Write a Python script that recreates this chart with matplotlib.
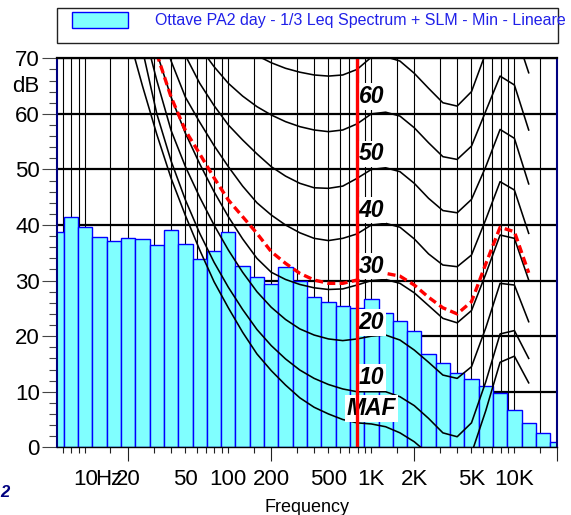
import matplotlib
matplotlib.use('Agg')
import matplotlib.pyplot as plt
import matplotlib.transforms as mtransforms
from matplotlib.patches import Rectangle
import numpy as np

plt.rcParams['font.family'] = ['Liberation Sans', 'DejaVu Sans']

# 1/3 octave band centres (Hz) and measured Leq per band (dB)
bands = [6.3, 8, 10, 12.5, 16, 20, 25, 31.5, 40, 50, 63, 80, 100, 125, 160, 200,
         250, 315, 400, 500, 630, 800, 1000, 1250, 1600, 2000, 2500, 3150, 4000,
         5000, 6300, 8000, 10000, 12500, 16000, 20000]
leq = [38.7, 41.5, 39.7, 37.8, 37.2, 37.7, 37.5, 36.4, 39.1, 36.5, 33.8, 35.3, 38.7,
       32.7, 30.6, 29.4, 32.4, 30.0, 27.0, 26.1, 25.5, 25.1, 26.6, 24.2, 22.7, 21.0,
       16.7, 15.1, 13.4, 12.3, 11.0, 9.8, 6.7, 4.3, 2.5, 1.0]

# equal loudness contours, 20 Hz .. 12.5 kHz
curve_bands = bands[5:34]
maf = [74.3, 65.0, 56.3, 48.4, 41.7, 35.5, 29.8, 25.1, 20.7, 16.8, 13.8, 11.2, 8.9, 7.2,
       6.0, 5.0, 4.4, 4.2, 3.7, 2.6, 1.0, -1.2, -3.6, -3.9, -1.1, 6.6, 15.3, 16.4, 11.6]
ph10 = [80, 71.5, 60, 51.5, 44.5, 38.5, 33.3, 28.8, 24.8, 21.2, 18.3, 15.9, 13.9, 12.4,
        11.3, 10.5, 10.0, 10.0, 10.0, 9.1, 7.5, 5.2, 2.6, 1.9, 4.4, 11.8, 20.4, 21.0, 16.0]
ph20 = [85, 76, 66, 57, 50.5, 45, 40, 35.5, 31.5, 28, 25.2, 23, 21.3, 20.2,
        19.5, 19.2, 19.5, 20, 20.2, 19.3, 17.5, 15.3, 13, 12.4, 14.5, 21.5, 29.5, 29.2, 22.6]
ph30 = [88, 80, 71, 63, 56.5, 51, 46, 41.5, 37.5, 34, 31.5, 30.2, 29.3, 28.7,
        28.4, 28.5, 29.2, 30, 30.2, 29.5, 27.8, 25.5, 23.2, 22.4, 24.6, 31.2, 38.2, 37.6, 30.1]
ph40 = [95, 86, 77.5, 69.5, 63, 58.5, 54.3, 50.5, 47, 44, 41.8, 40, 38.6, 37.6,
        37.2, 37.6, 38.4, 40.0, 40.3, 39.6, 37.5, 34.8, 32.8, 32.5, 34.6, 41.0, 47.8, 46.3, 38.5]
ph50 = [101, 93, 85, 77, 70.5, 65.5, 61.5, 58, 55.3, 52.8, 50.5, 48.8, 47.5, 46.7,
        46.6, 47.0, 48.4, 50.0, 50.3, 49.6, 47.5, 44.8, 42.6, 42.2, 44.6, 50.5, 57.2, 55.6, 47.4]
ph60 = [106, 98, 90, 83, 77, 72, 68.5, 65.5, 63.2, 61.3, 59.8, 58.6, 57.7, 57.1,
        56.8, 57.1, 58.2, 60.0, 60.3, 59.6, 57.5, 54.8, 52.3, 51.8, 54.2, 60.5, 66.8, 65.2, 57.1]
ph70 = [110, 103, 96, 90, 85, 80.5, 77, 74.3, 72.2, 70.5, 69.2, 68.2, 67.5, 67.0,
        66.8, 67.0, 68.0, 70.2, 70.3, 69.5, 67.3, 64.6, 62.0, 61.4, 64.0, 71.0, 76.5, 75.2, 67.4]
contours = [maf, ph10, ph20, ph30, ph40, ph50, ph60, ph70]
contour_names = ['MAF', '10', '20', '30', '40', '50', '60', '70']
label_db = [7.0, 12.6, 22.4, 32.6, 42.7, 52.8, 63.1, 73.5]

# "Min" loudness curve (red dashed), 31.5 Hz .. 12.5 kHz
min_bands = bands[7:34]
min_curve = [70.8, 63.0, 57.0, 52.8, 48.5, 44.5, 41.5, 38.5, 35.2, 33.1, 31.3, 30.1, 29.5,
             29.5, 30.1, 31.0, 31.3, 30.8, 29.2, 27.0, 25.1, 24.0, 26.2, 33.0, 39.6, 38.8, 31.4]

cursor_freq = 800
xtick_vals = [10, 20, 50, 100, 200, 500, 1000, 2000, 5000, 10000]
xtick_text = ['10', '20', '50', '100', '200', '500', '1K', '2K', '5K', '10K']
legend_text = 'Ottave PA2 day - 1/3 Leq Spectrum + SLM - Min - Lineare'


def exact(f):
    # nominal band -> exact base-10 band centre
    return 10 ** (np.round(np.log10(f) * 10) / 10)


def main():
    fig = plt.figure(figsize=(5.71, 5.15), dpi=100)
    W, H = 571, 515
    x0, x1, ytop, ybot = 56.7, 557.3, 58.3, 447.3
    ax = fig.add_axes([x0 / W, 1 - ybot / H, (x1 - x0) / W, (ybot - ytop) / H])

    fc = exact(np.array(bands))
    lo = fc / 10 ** 0.05
    hi = fc * 10 ** 0.05
    ax.bar(lo, leq, width=hi - lo, align='edge', color='#80ffff',
           edgecolor='#0000ff', linewidth=1.0, zorder=2)

    ax.set_xscale('log')
    ax.set_xlim(fc[0], fc[-1])
    ax.set_ylim(0, 70)

    # grid
    grid_f = [m * 10 ** n for n in range(0, 5) for m in [1, 1.5, 2, 3, 4, 5, 6, 7, 8, 9]]
    grid_f = [f for f in grid_f if fc[0] < f <= fc[-1] * 1.001]
    for f in grid_f:
        ax.axvline(f, color='black', lw=0.8, zorder=1)
    for v in range(0, 71, 10):
        ax.axhline(v, color='black', lw=1.6, zorder=1)

    # contours
    cb = exact(np.array(curve_bands))
    for vals in contours:
        ax.plot(cb, vals, color='black', lw=1.15, zorder=3)
    ax.plot(exact(np.array(min_bands)), min_curve, color='red', lw=2.4,
            dashes=(2.4, 1.3), zorder=4)

    for name, ydb in zip(contour_names, label_db):
        if ydb > 70:
            continue
        ax.text(1000, ydb, name, ha='center', va='center', fontsize=16.5,
                fontweight='bold', fontstyle='italic', zorder=5,
                bbox=dict(boxstyle='square,pad=0.08', fc='white', ec='none'))

    ax.axvline(exact(cursor_freq), color='red', lw=2.4, zorder=6)

    # ticks
    major = [20, 200, 2000, 20000]
    minor = [f for f in grid_f if f not in major]
    ax.set_xticks([exact(f) if f == 20000 else f for f in major])
    ax.set_xticks(minor, minor=True)
    ax.set_xticklabels([])
    ax.set_xticklabels([], minor=True)
    ax.tick_params(axis='x', which='major', direction='out', length=10, width=0.8, color='#222222')
    ax.tick_params(axis='x', which='minor', direction='out', length=4.3, width=0.8, color='#222222')

    ax.set_yticks(range(0, 71, 10))
    ax.set_yticks(range(0, 71, 2), minor=True)
    ax.tick_params(axis='y', which='major', direction='out', length=11, width=0.8,
                   color='#444444', labelsize=16, pad=1.2)
    ax.tick_params(axis='y', which='minor', direction='out', length=6, width=0.8, color='#444444')
    ax.annotate('dB', xy=(0, 65), xycoords=('axes fraction', 'data'), xytext=(-12.2, 0),
                textcoords='offset points', ha='right', va='center', fontsize=16)

    trans = mtransforms.blended_transform_factory(ax.transData, ax.transAxes)
    for v, t in zip(xtick_vals, xtick_text):
        ax.text(v, -0.056, t, transform=trans, ha='center', va='top', fontsize=16)
    ax.annotate('Hz', xy=(10, -0.056), xycoords=trans, xytext=(7.2, 0),
                textcoords='offset points', ha='left', va='top', fontsize=16)

    for side in ['left', 'right']:
        ax.spines[side].set_color('#000080')
        ax.spines[side].set_linewidth(1.5)
    ax.spines['top'].set_linewidth(1.6)
    ax.spines['bottom'].set_linewidth(1.0)
    for sp in ax.spines.values():
        sp.set_zorder(7)

    fig.text(307 / W, 1 - 511.5 / H, 'Frequency', ha='center', va='baseline', fontsize=13)
    fig.text(0.0, 1 - 497 / H, '2', ha='left', va='baseline', fontsize=12,
             fontweight='bold', fontstyle='italic', color='#000080')

    # legend box
    fig.patches.append(Rectangle((57 / W, 1 - 43 / H), (557.7 - 57) / W, 35 / H,
                                 transform=fig.transFigure, fill=False, ec='#222222', lw=1.0))
    fig.patches.append(Rectangle((71.7 / W, 1 - 28.3 / H), 56.6 / W, 16.6 / H,
                                 transform=fig.transFigure, fc='#80ffff', ec='#0000ff', lw=1.0))
    fig.text(155 / W, 1 - 25 / H, legend_text, ha='left', va='baseline', fontsize=11.5,
             color='#2020e8')

    fig.savefig('out.png', dpi=100)


if __name__ == '__main__':
    main()
